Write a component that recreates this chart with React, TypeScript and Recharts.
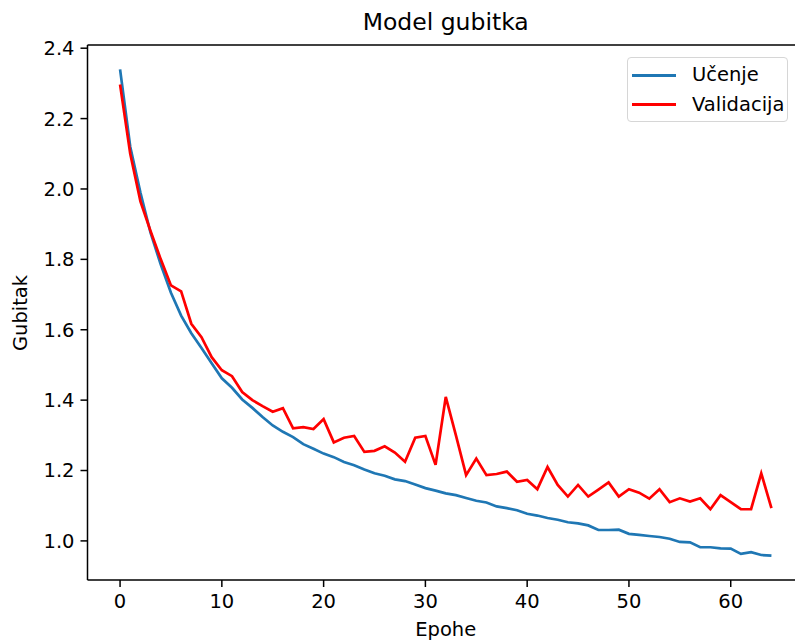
import React from 'react';
import { LineChart, Line, XAxis, YAxis, ReferenceLine } from 'recharts';

// loss per epoch
const epochs = Array.from({ length: 65 }, (_, i) => i);

const trainLoss = [
  2.34, 2.12, 1.99, 1.875, 1.785, 1.705, 1.64, 1.59, 1.548, 1.505,
  1.462, 1.435, 1.402, 1.378, 1.352, 1.328, 1.31, 1.295, 1.275, 1.262,
  1.248, 1.238, 1.224, 1.215, 1.203, 1.192, 1.185, 1.175, 1.17, 1.16,
  1.15, 1.143, 1.135, 1.13, 1.122, 1.114, 1.109, 1.098, 1.093, 1.087,
  1.077, 1.072, 1.065, 1.06, 1.053, 1.05, 1.044, 1.031, 1.031, 1.032,
  1.02, 1.017, 1.014, 1.011, 1.006, 0.997, 0.996, 0.982, 0.982, 0.979,
  0.978, 0.963, 0.968, 0.96, 0.958,
];

const valLoss = [
  2.297, 2.1, 1.965, 1.88, 1.8, 1.726, 1.709, 1.617, 1.579, 1.522,
  1.485, 1.468, 1.423, 1.4, 1.383, 1.367, 1.377, 1.32, 1.323, 1.318,
  1.346, 1.28, 1.293, 1.298, 1.253, 1.256, 1.269, 1.251, 1.225, 1.293,
  1.298, 1.216, 1.409, 1.3, 1.187, 1.234, 1.187, 1.19, 1.197, 1.168,
  1.173, 1.147, 1.21, 1.159, 1.126, 1.159, 1.126, 1.146, 1.166, 1.126,
  1.147, 1.137, 1.12, 1.147, 1.11, 1.121, 1.112, 1.121, 1.09, 1.13,
  1.11, 1.09, 1.09, 1.192, 1.093,
];

const xTicks = [0, 10, 20, 30, 40, 50, 60];
const yTicks = [1.0, 1.2, 1.4, 1.6, 1.8, 2.0, 2.2, 2.4];

const series = [
  { key: 'train', name: 'Učenje', color: '#1f77b4' },
  { key: 'val', name: 'Validacija', color: '#ff0000' },
];

const data = epochs.map((e, i) => ({ epoch: e, train: trainLoss[i], val: valLoss[i] }));

// matplotlib style 5% margins
const allY = [...trainLoss, ...valLoss];
const yMin = Math.min(...allY);
const yMax = Math.max(...allY);
const yPad = (yMax - yMin) * 0.05;
const xMax = epochs[epochs.length - 1];
const xDomain = [-xMax * 0.05, xMax * 1.05];
const yDomain = [yMin - yPad, yMax + yPad];

const FONT = '"DejaVu Sans", sans-serif';
const tickStyle = { fill: '#000', fontSize: 19.5, fontFamily: FONT };

const App = () => {
  return (
    <div style={{ position: 'absolute', left: 0, top: 0, width: 795, height: 641, overflow: 'hidden', background: '#fff', fontFamily: FONT }}>
      <LineChart width={816} height={641} data={data} margin={{ top: 45, right: 12, bottom: 21, left: 0 }}>
        <XAxis
          dataKey="epoch"
          type="number"
          domain={xDomain}
          ticks={xTicks}
          allowDataOverflow
          height={40}
          tickSize={7}
          tickMargin={7}
          tick={tickStyle}
          axisLine={{ stroke: '#000', strokeWidth: 1.5 }}
          tickLine={{ stroke: '#000', strokeWidth: 1.5 }}
        />
        <YAxis
          type="number"
          domain={yDomain}
          ticks={yTicks}
          allowDataOverflow
          width={87.5}
          tickSize={7}
          tickMargin={6}
          tick={tickStyle}
          tickFormatter={(v: number) => v.toFixed(1)}
          axisLine={{ stroke: '#000', strokeWidth: 1.5 }}
          tickLine={{ stroke: '#000', strokeWidth: 1.5 }}
        />
        {/* top spine */}
        <ReferenceLine y={yDomain[1]} stroke="#000" strokeWidth={1.5} ifOverflow="visible" />
        {series.map((s) => (
          <Line
            key={s.key}
            dataKey={s.key}
            name={s.name}
            type="linear"
            stroke={s.color}
            strokeWidth={2.7}
            dot={false}
            activeDot={false}
            isAnimationActive={false}
          />
        ))}
      </LineChart>

      {/* title and axis labels */}
      <div style={{ position: 'absolute', left: 445.7, top: 11, transform: 'translateX(-50%)', fontSize: 23.5, lineHeight: 1, whiteSpace: 'nowrap', color: '#000' }}>
        Model gubitka
      </div>
      <div style={{ position: 'absolute', left: 445.7, top: 619.5, transform: 'translateX(-50%)', fontSize: 19.5, lineHeight: 1, whiteSpace: 'nowrap', color: '#000' }}>
        Epohe
      </div>
      <div style={{ position: 'absolute', left: 20.8, top: 312.5, transform: 'translate(-50%, -50%) rotate(-90deg)', fontSize: 19.5, lineHeight: 1, whiteSpace: 'nowrap', color: '#000' }}>
        Gubitak
      </div>

      {/* legend */}
      <div style={{ position: 'absolute', left: 627, top: 57, width: 161, height: 65, boxSizing: 'border-box', border: '1px solid #d6d6d6', borderRadius: 4, background: 'rgba(255,255,255,0.8)' }}>
        {series.map((s, i) => (
          <div key={s.key} style={{ position: 'absolute', left: 4, top: 6 + i * 29.5, height: 22, display: 'flex', alignItems: 'center' }}>
            <div style={{ width: 44, height: 3, background: s.color }} />
            <span style={{ marginLeft: 16, fontSize: 19.5, lineHeight: 1, color: '#000', whiteSpace: 'nowrap' }}>{s.name}</span>
          </div>
        ))}
      </div>
    </div>
  );
};

export default App;
